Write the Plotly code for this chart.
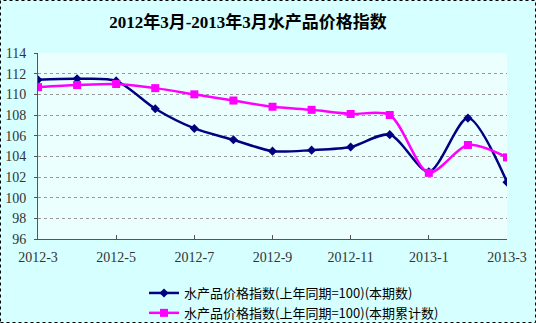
import plotly.graph_objects as go

# Monthly labels (2012-3 .. 2013-3)
months = ["2012-3", "2012-4", "2012-5", "2012-6", "2012-7", "2012-8", "2012-9",
          "2012-10", "2012-11", "2012-12", "2013-1", "2013-2", "2013-3"]
# 水产品价格指数(上年同期=100)(本期数)
current_index = [111.4, 111.5, 111.3, 108.6, 106.7, 105.6, 104.5,
                 104.6, 104.9, 106.1, 102.5, 107.7, 101.5]
# 水产品价格指数(上年同期=100)(本期累计数)
cumulative_index = [110.7, 110.9, 111.0, 110.6, 110.0, 109.4, 108.8,
                    108.5, 108.1, 108.0, 102.4, 105.1, 103.9]

tick_pos = list(range(0, len(months), 2))
tick_text = [months[i] for i in tick_pos]
y_ticks = list(range(96, 115, 2))

x = list(range(len(months)))

W, H = 536, 323

fig = go.Figure()
fig.add_trace(go.Scatter(
    x=x, y=current_index, mode="lines+markers",
    name="水产品价格指数(上年同期=100)(本期数)",
    line=dict(color="#000080", width=2.5, shape="spline", smoothing=0.8),
    marker=dict(symbol="diamond", size=7, color="#000080"),
))
fig.add_trace(go.Scatter(
    x=x, y=cumulative_index, mode="lines+markers",
    name="水产品价格指数(上年同期=100)(本期累计数)",
    line=dict(color="#FF00FF", width=2.5, shape="spline", smoothing=0.8),
    marker=dict(symbol="square", size=8, color="#FF00FF"),
))

tick_font = dict(family="Liberation Serif, Noto Sans CJK SC", size=14, color="#333333")

fig.update_layout(
    width=W, height=H,
    margin=dict(l=38, r=29, t=53, b=84, autoexpand=False),
    paper_bgcolor="#D6FFFF",
    plot_bgcolor="#EBFFFF",
    title=dict(
        text="<b>2012年3月-2013年3月水产品价格指数</b>",
        x=248 / W, xanchor="center", y=1 - 22 / H, yanchor="middle",
        font=dict(family="Liberation Serif, Noto Sans CJK SC", size=17, color="#000000"),
    ),
    showlegend=True,
    legend=dict(
        xref="container", yref="container",
        x=144 / W, xanchor="left", y=1 - 278 / H, yanchor="top",
        bgcolor="rgba(0,0,0,0)", borderwidth=0,
        font=dict(family="Noto Sans CJK SC", size=13, color="#000000"),
        tracegroupgap=0, itemwidth=30,
    ),
    xaxis=dict(
        range=[0, len(months) - 1],
        tickvals=tick_pos, ticktext=tick_text,
        showgrid=False, zeroline=False,
        showline=True, linecolor="#555555", linewidth=1,
        ticks="inside", ticklen=4, tickcolor="#555555",
        ticklabelstandoff=5,
        tickfont=tick_font,
    ),
    yaxis=dict(
        range=[96, 114], tickvals=y_ticks,
        showgrid=True, gridcolor="#999999", griddash="dot", gridwidth=1,
        zeroline=False,
        showline=True, linecolor="#555555", linewidth=1,
        ticks="outside", ticklen=3, tickcolor="#555555",
        ticklabelstandoff=5,
        tickfont=tick_font,
    ),
)

# dotted frame around the whole figure
fig.add_shape(type="rect", xref="paper", yref="paper",
              x0=-37.5 / 469, x1=1 + 28.5 / 469, y0=-83.5 / 186, y1=1 + 52.5 / 186,
              line=dict(color="#000000", width=1, dash="dot"))

fig.write_html("out.html")
